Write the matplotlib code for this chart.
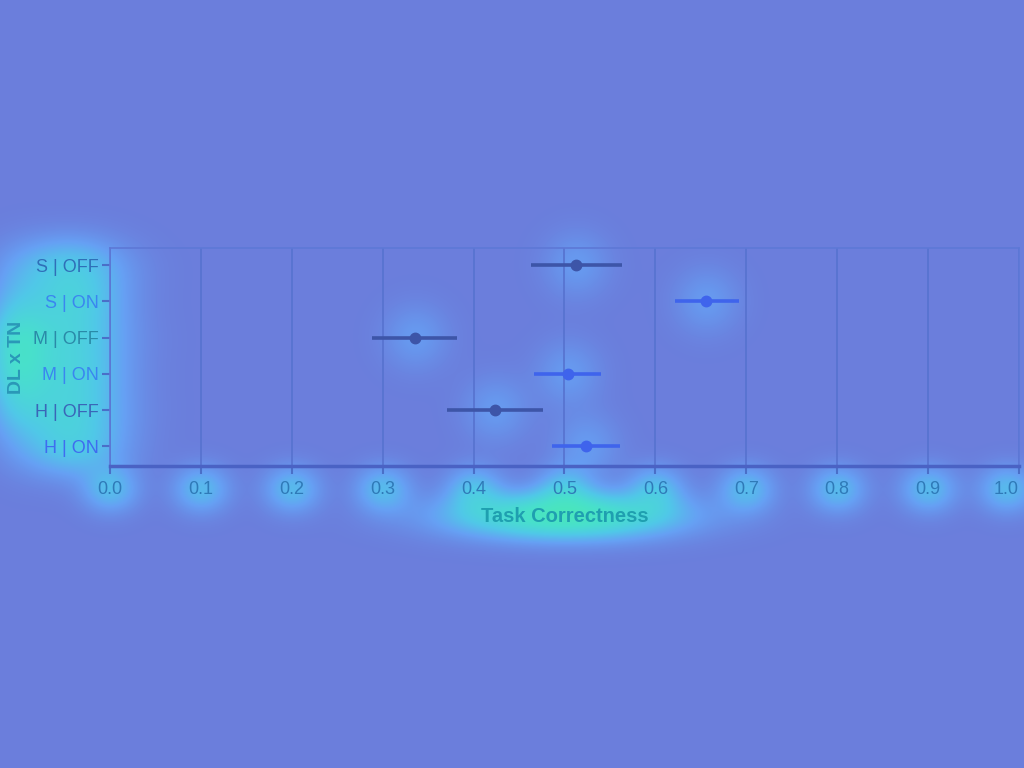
import matplotlib
matplotlib.use("Agg")
import matplotlib.pyplot as plt
from matplotlib.colors import LinearSegmentedColormap
import numpy as np

plt.rcParams['font.family'] = ['Liberation Sans', 'DejaVu Sans']

labels = ['S | OFF', 'S | ON', 'M | OFF', 'M | ON', 'H | OFF', 'H | ON']
means = [0.513, 0.656, 0.336, 0.504, 0.424, 0.524]
ci_low = [0.463, 0.622, 0.288, 0.466, 0.371, 0.486]
ci_high = [0.563, 0.692, 0.382, 0.540, 0.476, 0.561]
xticks = [0.0, 0.1, 0.2, 0.3, 0.4, 0.5, 0.6, 0.7, 0.8, 0.9, 1.0]

bg = '#6b7edc'
off_col = '#3d55a8'
on_col = '#3f64ec'
label_cols = ['#2f6fb8', '#3a86f0', '#2a8aa8', '#3a86f0', '#3a66b8', '#3f6cf0']

W, H = 1024, 768
fig = plt.figure(figsize=(W / 100, H / 100), dpi=100)
fig.patch.set_facecolor(bg)
ax = fig.add_axes([0.1074, 0.393, 0.8877, 0.284])
ax.set_facecolor('none')

y = np.arange(len(labels))
dots = []
for i in range(len(labels)):
    col = off_col if 'OFF' in labels[i] else on_col
    ax.plot([ci_low[i], ci_high[i]], [y[i], y[i]], color=col, lw=2.6,
            solid_capstyle='butt', zorder=3)
    dots += ax.plot(means[i], y[i], 'o', color=col, ms=7.5, zorder=4)

ax.set_xlim(0, 1.0)
ax.set_ylim(len(labels) - 0.45, -0.47)
ax.set_yticks(y)
ax.set_yticklabels(labels, fontsize=13)
for t, c in zip(ax.get_yticklabels(), label_cols):
    t.set_color(c)
ax.set_xticks(xticks)
ax.set_xticklabels(['%.1f' % v for v in xticks], fontsize=13, color='#2f7ab8')
ax.get_xticklabels()[-1].set_horizontalalignment('right')

ax.grid(axis='x', color='#5672cf', lw=1.2)
ax.set_axisbelow(True)
for s in ['top', 'right', 'left']:
    ax.spines[s].set_color('#5d78d6')
    ax.spines[s].set_linewidth(1.2)
ax.spines['bottom'].set_color('#4a62c4')
ax.spines['bottom'].set_linewidth(2.5)
ax.tick_params(axis='y', color='#4a6fc8', length=6, width=1.5, pad=2)
ax.tick_params(axis='x', color='#4a6fc8', length=6, width=1.5, pad=5)

xl = ax.set_xlabel('Task Correctness', fontsize=14.5, fontweight='bold', color='#1f9fb0', labelpad=6)
yl = ax.set_ylabel('DL x TN', fontsize=14, fontweight='bold', color='#2a98b8', labelpad=6)

# soft attention-like glow behind the texts and marks
fig.canvas.draw()
rend = fig.canvas.get_renderer()
yy, xx = np.mgrid[0:H, 0:W]
heat = np.zeros((H, W))


def blob(bb, w, pad):
    cx, cy = (bb.x0 + bb.x1) / 2, (bb.y0 + bb.y1) / 2
    sx, sy = bb.width / 2.5 + pad, bb.height / 2.5 + pad
    return w * np.exp(-((xx - cx) ** 2 / (2 * sx ** 2) + (yy - cy) ** 2 / (2 * sy ** 2)))


for t in ax.get_yticklabels():
    heat += blob(t.get_window_extent(rend), 0.32, 14)
for t in ax.get_xticklabels():
    heat += blob(t.get_window_extent(rend), 0.28, 9)
heat += blob(xl.get_window_extent(rend), 0.75, 8)
heat += blob(yl.get_window_extent(rend), 0.45, 14)
for d in dots:
    heat += blob(d.get_window_extent(rend), 0.13, 18)

heat = 1 - np.exp(-1.3 * heat)
cmap = LinearSegmentedColormap.from_list(
    'glow', [bg, '#66a0f4', '#50c8e8', '#48e0cc', '#4cebb0'], N=256)
rgb = cmap(np.clip(heat / 0.75, 0, 1))
fig.figimage(rgb, xo=0, yo=0, origin='lower', zorder=-1)

fig.savefig('out.png', dpi=100, facecolor=bg)
